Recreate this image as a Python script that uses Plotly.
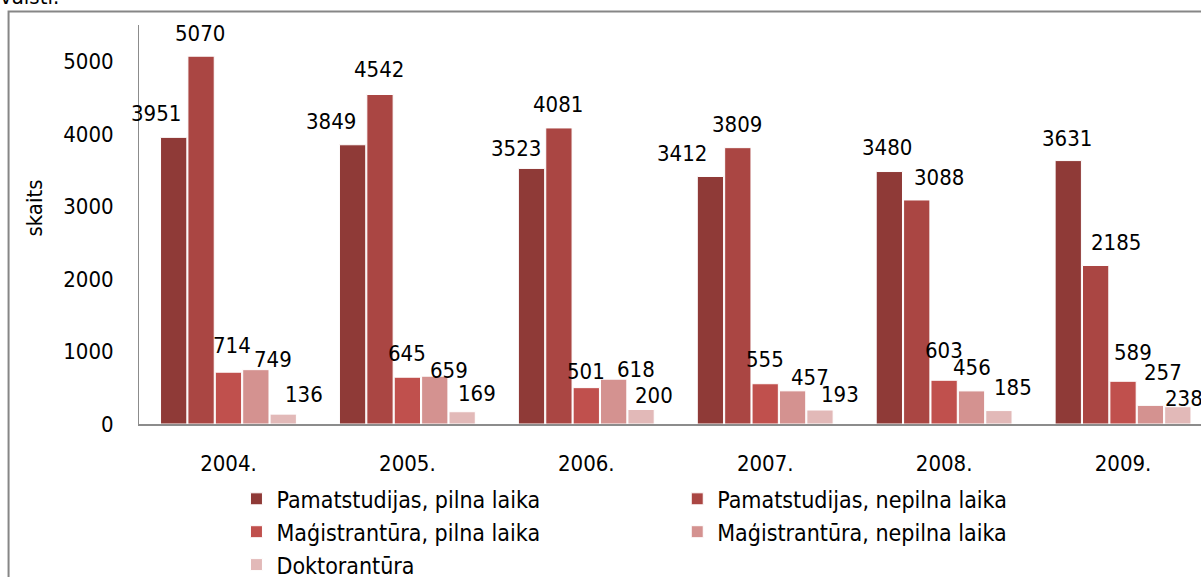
import plotly.graph_objects as go

years = ["2004.", "2005.", "2006.", "2007.", "2008.", "2009."]
series_names = [
    "Pamatstudijas, pilna laika",
    "Pamatstudijas, nepilna laika",
    "Maģistrantūra, pilna laika",
    "Maģistrantūra, nepilna laika",
    "Doktorantūra",
]
pamat_pilna = [3951, 3849, 3523, 3412, 3480, 3631]
pamat_nepilna = [5070, 4542, 4081, 3809, 3088, 2185]
mag_pilna = [714, 645, 501, 555, 603, 589]
mag_nepilna = [749, 659, 618, 457, 456, 257]
doktorantura = [136, 169, 200, 193, 185, 238]
all_values = [pamat_pilna, pamat_nepilna, mag_pilna, mag_nepilna, doktorantura]

colors = ["#8F3A37", "#AA4643", "#C0504D", "#D49290", "#E2B9B8"]

# label nudges (px) relative to bar top centre: (dx, dy up)
label_dx = [
    [-18, -22, -15, -28, -2, -1],
    [-1, -1, -1, -1, 22, 20],
    [4, 0, 0, 0, 0, 10],
    [17, 14, 22, 17, 0, 13],
    [21, 15, 13, 20, 14, 6],
]
label_dy = [
    [24, 23, 20, 23, 24, 22],
    [23, 25, 23, 23, 22, 23],
    [27, 24, 16, 24, 30, 29],
    [10, 6, 10, 13, 23, 33],
    [20, 18, 14, 16, 23, 8],
]

FONT = "DejaVu Sans Condensed, Liberation Sans, sans-serif"
FS = 22

L, T, W, H = 138.5, 24.5, 1201, 577
PW = W - L
PH = 400
B = H - T - PH
SLOT = 179.0
GROUP_W = 137.0
BAR_PITCH = GROUP_W / 5


def px2paper_x(px):
    return (px - L) / PW


def px2paper_y(py):
    return (T + PH - py) / PH


fig = go.Figure()
legends = ["legend", "legend2", "legend", "legend2", "legend"]
for i, (name, vals) in enumerate(zip(series_names, all_values)):
    fig.add_trace(go.Bar(
        x=years, y=vals, name=name,
        marker=dict(color=colors[i], line=dict(color="white", width=1)),
        legend=legends[i],
    ))

annotations = []
for i, vals in enumerate(all_values):
    for j, v in enumerate(vals):
        annotations.append(dict(
            x=j, y=v, xref="x", yref="y", text=str(v), showarrow=False,
            xanchor="center", yanchor="middle",
            xshift=(i - 2) * BAR_PITCH + label_dx[i][j], yshift=label_dy[i][j],
            font=dict(family=FONT, size=FS, color="#000000"),
        ))

annotations.append(dict(
    x=px2paper_x(33), y=px2paper_y(208), xref="paper", yref="paper",
    text="skaits", textangle=-90, showarrow=False,
    font=dict(family=FONT, size=FS, color="#000000"),
    xanchor="center", yanchor="middle",
))
annotations.append(dict(
    x=px2paper_x(-3), y=px2paper_y(-4), xref="paper", yref="paper",
    text="valstī.", showarrow=False,
    font=dict(family=FONT, size=FS, color="#000000"),
    xanchor="left", yanchor="middle",
))

fig.update_layout(
    width=W, height=H,
    margin=dict(l=L, r=0, t=T, b=B, autoexpand=False),
    paper_bgcolor="white", plot_bgcolor="white",
    barmode="group", bargap=1 - GROUP_W / SLOT, bargroupgap=0.04,
    font=dict(family=FONT, size=FS, color="#000000"),
    xaxis=dict(
        type="category", range=[-0.5, (W - L) / SLOT - 0.5],
        showline=True, linecolor="#8C8C8C", linewidth=2,
        showgrid=False, ticks="", ticklabelstandoff=19,
        tickfont=dict(family=FONT, size=FS),
    ),
    yaxis=dict(
        range=[0, 5500], dtick=1000, tick0=0,
        showline=True, linecolor="#8C8C8C", linewidth=1,
        showgrid=False, zeroline=False, ticks="", ticklabelstandoff=20,
        tickfont=dict(family=FONT, size=FS),
    ),
    legend=dict(
        orientation="v", x=px2paper_x(236), y=px2paper_y(478),
        xanchor="left", yanchor="top", font=dict(family=FONT, size=FS + 1),
        bgcolor="rgba(0,0,0,0)", tracegroupgap=0, itemwidth=30,
    ),
    legend2=dict(
        orientation="v", x=px2paper_x(677), y=px2paper_y(478),
        xanchor="left", yanchor="top", font=dict(family=FONT, size=FS + 1),
        bgcolor="rgba(0,0,0,0)", tracegroupgap=0, itemwidth=30,
    ),
    annotations=annotations,
    shapes=[dict(
        type="rect", xref="paper", yref="paper",
        x0=px2paper_x(8), x1=px2paper_x(1230),
        y0=px2paper_y(600), y1=px2paper_y(11),
        line=dict(color="#868686", width=2), fillcolor="rgba(0,0,0,0)",
        layer="below",
    )],
)

fig.write_html(
    "out.html",
    config={"displayModeBar": False},
    post_script="document.body.style.margin='0';document.body.style.overflow='hidden';",
)
